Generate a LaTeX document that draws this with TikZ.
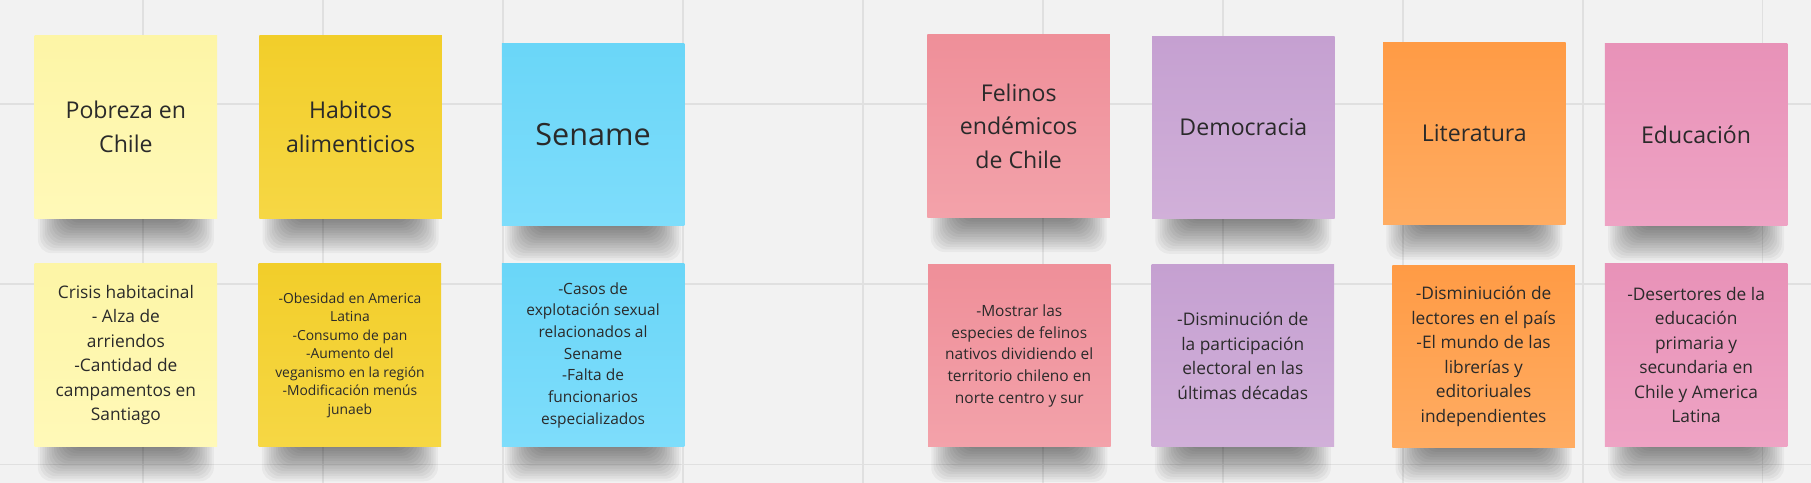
\documentclass[tikz,border=0pt]{standalone}
\usepackage{fontspec}
\setmainfont{Open Sans}
\usetikzlibrary{positioning,calc}

\definecolor{boardbg}{HTML}{F2F2F2}
\definecolor{gridline}{HTML}{E0E0E0}
\definecolor{ink}{HTML}{2A2A2A}
\definecolor{paleyellowtop}{HTML}{FDF5A6}
\definecolor{paleyellowbot}{HTML}{FFF9B8}
\definecolor{yellowtop}{HTML}{F2CE2A}
\definecolor{yellowbot}{HTML}{F6D744}
\definecolor{cyantop}{HTML}{6AD6F8}
\definecolor{cyanbot}{HTML}{7EDDFB}
\definecolor{rosetop}{HTML}{EF8F99}
\definecolor{rosebot}{HTML}{F3A2AA}
\definecolor{lilactop}{HTML}{C5A0D1}
\definecolor{lilacbot}{HTML}{D1B0D9}
\definecolor{orangetop}{HTML}{FF9B45}
\definecolor{orangebot}{HTML}{FFAC62}
\definecolor{pinktop}{HTML}{E892B8}
\definecolor{pinkbot}{HTML}{EEA3C4}

\pgfdeclarelayer{gridlayer}
\pgfdeclarelayer{shadowlayer}
\pgfsetlayers{gridlayer,shadowlayer,main}

\tikzset{
  sticky/.style={minimum width=158pt, minimum height=158pt, inner sep=0pt, align=center, text=ink},
  title/.style={font=\fontsize{20}{29}\selectfont},
  bigtitle/.style={font=\fontsize{26.5}{34}\selectfont},
  bodytext/.style={font=\fontsize{15}{21.2}\selectfont},
  smalltext/.style={font=\fontsize{13.4}{18.8}\selectfont},
  tinytext/.style={font=\fontsize{12}{16}\selectfont},
  paleyellow/.style={top color=paleyellowtop, bottom color=paleyellowbot},
  yellownote/.style={top color=yellowtop, bottom color=yellowbot},
  cyannote/.style={top color=cyantop, bottom color=cyanbot},
  rosenote/.style={top color=rosetop, bottom color=rosebot},
  lilacnote/.style={top color=lilactop, bottom color=lilacbot},
  orangenote/.style={top color=orangetop, bottom color=orangebot},
  pinknote/.style={top color=pinktop, bottom color=pinkbot},
}

% soft shadow under a note
\newcommand{\notedrop}[1]{%
  \begin{pgfonlayer}{shadowlayer}
    \foreach \s in {0,...,13}
      \fill[black, opacity=0.04, rounded corners=12pt]
        ($(#1.south west)+(3+2*\s,-12)$) rectangle ($(#1.south east)+(-3-2*\s,30-2.2*\s)$);
  \end{pgfonlayer}}

\begin{document}
\begin{tikzpicture}[x=1pt,y=-1pt]
  \useasboundingbox (0,0) rectangle (1568,418);

  % board
  \begin{pgfonlayer}{gridlayer}
    \fill[boardbg] (0,0) rectangle (1568,418);
    \foreach \gx in {0,...,9}
      \draw[gridline, line width=1.3pt] (124+155.8*\gx,0) -- (124+155.8*\gx,418);
    \foreach \gy in {90,246,402}
      \draw[gridline, line width=1.3pt] (0,\gy) -- (1568,\gy);
  \end{pgfonlayer}

  % topics
  \node[sticky, paleyellow, title] (pobreza) at (109,110) {Pobreza en\\Chile};
  \node[sticky, yellownote, title] (habitos) at (303.5,110) {Habitos\\alimenticios};
  \node[sticky, cyannote, bigtitle] (sename) at (513.5,116.5) {Sename};
  \node[sticky, rosenote, title] (felinos) at (882,109) {Felinos\\endémicos\\de Chile};
  \node[sticky, lilacnote, title] (democracia) at (1076.5,110.5) {Democracia};
  \node[sticky, orangenote, title] (literatura) at (1276.5,115.5) {Literatura};
  \node[sticky, pinknote, title] (educacion) at (1468.5,116.5) {Educación};

  % problems
  \node[sticky, paleyellow, bodytext] (crisis) at (109,307.5)
    {Crisis habitacinal\\- Alza de\\arriendos\\-Cantidad de\\campamentos en\\Santiago};
  \node[sticky, yellownote, tinytext] (obesidad) at (303,307.5)
    {-Obesidad en America\\Latina\\-Consumo de pan\\-Aumento del\\veganismo en la región\\-Modificación menús\\junaeb};
  \node[sticky, cyannote, smalltext] (casos) at (513.5,307.5)
    {-Casos de\\explotación sexual\\relacionados al\\Sename\\-Falta de\\funcionarios\\especializados};
  \node[sticky, rosenote, smalltext] (mostrar) at (882.5,308)
    {-Mostrar las\\especies de felinos\\nativos dividiendo el\\territorio chileno en\\norte centro y sur};
  \node[sticky, lilacnote, bodytext] (disminucion) at (1076,308)
    {-Disminución de\\la participación\\electoral en las\\últimas décadas};
  \node[sticky, orangenote, bodytext] (lectores) at (1284.5,308.5)
    {-Disminiución de\\lectores en el país\\-El mundo de las\\librerías y\\editoriuales\\independientes};
  \node[sticky, pinknote, bodytext] (desertores) at (1468.5,307.5)
    {-Desertores de la\\educación\\primaria y\\secundaria en\\Chile y America\\Latina};

  % shadows
  \foreach \n in {pobreza,habitos,sename,felinos,democracia,literatura,educacion,
                  crisis,obesidad,casos,mostrar,disminucion,lectores,desertores}
    {\notedrop{\n}}
\end{tikzpicture}
\end{document}
